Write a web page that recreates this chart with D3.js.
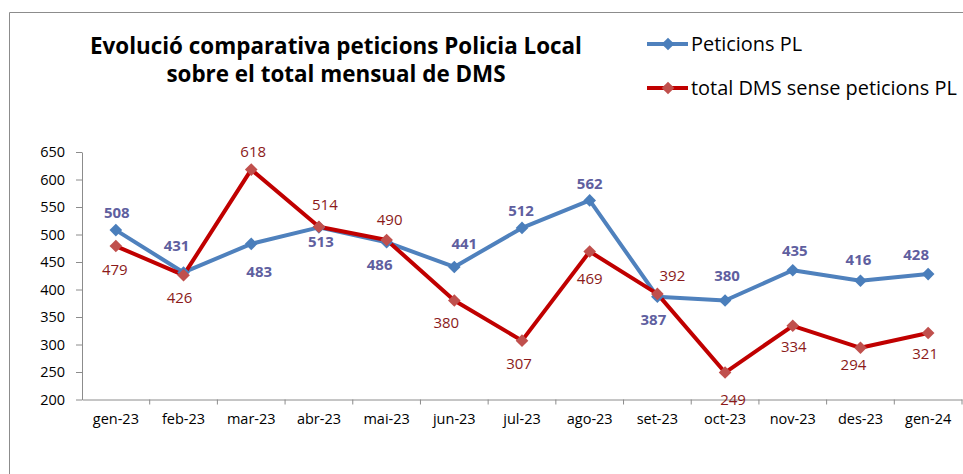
<!DOCTYPE html>
<html><head><meta charset="utf-8">
<script src="https://cdn.jsdelivr.net/npm/d3@7"></script>
<style>html,body{margin:0;padding:0;background:#fff;}svg{display:block;}</style>
</head><body>
<svg id="c" width="963" height="474"></svg>
<script>
const categories = ["gen-23","feb-23","mar-23","abr-23","mai-23","jun-23","jul-23","ago-23","set-23","oct-23","nov-23","des-23","gen-24"];
const peticionsPL = [508,431,483,513,486,441,512,562,387,380,435,416,428];
const totalDMS = [479,426,618,514,490,380,307,469,392,249,334,294,321];
const yTicks = [200,250,300,350,400,450,500,550,600,650];
const seriesNames = ["Peticions PL","total DMS sense peticions PL"];
const titleLines = ["Evolució comparativa peticions Policia Local","sobre el total mensual de DMS"];

// label placement (layout, px offsets of label centre from the point)
const blueLabelOff = [[1,-18],[-7,-27],[8,28],[2,14],[-7,22],[10,-23],[-1,-17],[0,-17],[-4,23],[2,-25],[2,-20],[-2,-21],[-12,-20]];
const redLabelOff  = [[-1,24],[-4,22],[2,-18],[6,-22],[3,-20],[-8,22],[-3,23],[0,27],[15,-18],[8,27],[1,21],[-7,17],[-3,21]];

const svg = d3.select("#c");
const font = "'Open Sans', sans-serif";

function fitWidth(sel, target){
  const w = sel.node().getComputedTextLength();
  const fs = parseFloat(sel.attr("font-size"));
  sel.attr("font-size", (fs*target/w).toFixed(2));
}

// frame
svg.append("path").attr("d","M9.5,474 V12.5 H963").attr("fill","none").attr("stroke","#8c8c8c").attr("stroke-width",1);

const x = d3.scaleBand().domain(categories).range([82, 962]).padding(0);
const y = d3.scaleLinear().domain([200,650]).range([399.5,152]);

const yAxis = d3.axisLeft(y).tickValues(yTicks).tickSize(6).tickSizeOuter(0).tickPadding(5);
const gy = svg.append("g").attr("transform","translate(82,0)").call(yAxis);
gy.select(".domain").attr("stroke","#8c8c8c");
gy.selectAll(".tick line").attr("stroke","#8c8c8c");
gy.selectAll(".tick text").attr("font-family",font).attr("font-size",14.5).attr("fill","#000").attr("x",-17);

const xAxis = d3.axisBottom(x).tickSize(0).tickSizeOuter(0).tickPadding(14);
const gx = svg.append("g").attr("transform","translate(0,399.5)").call(xAxis);
gx.select(".domain").attr("stroke","#8c8c8c");
gx.selectAll(".tick text").attr("font-family",font).attr("font-size",14.5).attr("fill","#000");
gx.selectAll(".bt").data(categories).enter().append("line")
  .attr("class","bt")
  .attr("x1",d=>x(d)+x.bandwidth()).attr("x2",d=>x(d)+x.bandwidth())
  .attr("y1",0).attr("y2",5).attr("stroke","#8c8c8c");

const cx = (d,i)=>x(categories[i])+x.bandwidth()/2;
const line = d3.line().x((d,i)=>cx(d,i)).y(d=>y(d));

const series = [
  {vals: peticionsPL, line:"#4F81BD", marker:"#4A7EBB", label:"#5F5F9F", weight:"bold", off: blueLabelOff, w:4},
  {vals: totalDMS, line:"#C00000", marker:"#C0504D", label:"#8B1A1A", weight:"normal", off: redLabelOff, w:4}
];

series.forEach(s=>{
  svg.append("path").datum(s.vals).attr("d",line).attr("fill","none").attr("stroke",s.line)
    .attr("stroke-width",s.w).attr("stroke-linejoin","round");
});
series.forEach(s=>{
  svg.selectAll(null).data(s.vals).enter().append("path")
    .attr("d", d3.symbol().type(d3.symbolSquare).size(80)())
    .attr("transform",(d,i)=>`translate(${cx(d,i)},${y(d)}) rotate(45)`)
    .attr("fill",s.marker);
});
series.forEach(s=>{
  svg.selectAll(null).data(s.vals).enter().append("text")
    .attr("x",(d,i)=>cx(d,i)+s.off[i][0]).attr("y",(d,i)=>y(d)+s.off[i][1])
    .attr("dy","0.36em").attr("text-anchor","middle")
    .attr("font-family",font).attr("font-size",15).attr("font-weight",s.weight)
    .attr("fill",s.label).text(d=>d);
});

// title
const tt = svg.append("g").selectAll("text").data(titleLines).enter().append("text")
  .attr("x",336).attr("y",(d,i)=>54+i*28).attr("text-anchor","middle")
  .attr("font-family",font).attr("font-size",18).attr("font-weight","bold").attr("fill","#000")
  .text(d=>d);
fitWidth(d3.select(tt.nodes()[0]), 492);
d3.select(tt.nodes()[1]).attr("font-size", d3.select(tt.nodes()[0]).attr("font-size"));

// legend
const lg = svg.append("g");
const legTexts = [];
seriesNames.forEach((n,i)=>{
  const yy = 44 + i*44;
  lg.append("line").attr("x1",647).attr("x2",688).attr("y1",yy).attr("y2",yy)
    .attr("stroke",series[i].line).attr("stroke-width",4);
  lg.append("path").attr("d", d3.symbol().type(d3.symbolSquare).size(80)())
    .attr("transform",`translate(668,${yy}) rotate(45)`).attr("fill",series[i].marker);
  legTexts.push(lg.append("text").attr("x",691).attr("y",yy).attr("dy","0.36em")
    .attr("font-family",font).attr("font-size",17.5).attr("fill","#000").text(n));
});
fitWidth(legTexts[1], 266);
legTexts[0].attr("font-size", legTexts[1].attr("font-size"));
</script>
</body></html>
